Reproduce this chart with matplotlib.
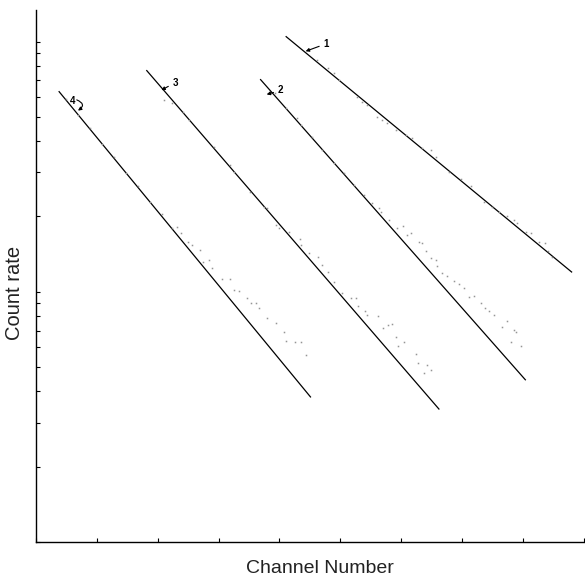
import matplotlib
matplotlib.use("Agg")
import matplotlib.pyplot as plt
from matplotlib.ticker import LogLocator, NullFormatter, MultipleLocator

# Fitted straight lines (channel, count rate) - end points
fit_ch = {
    "1": [411, 880],
    "2": [369, 804],
    "3": [182, 662],
    "4": [38, 451],
}
fit_rate = {
    "1": [104.7, 12.0],
    "2": [70.5, 4.45],
    "3": [76.6, 3.40],
    "4": [63.1, 3.80],
}

# Measured points (dotted)
ch_1 = [461, 479, 490, 498, 528, 536, 544, 561, 569, 577, 592, 608, 618, 634, 649, 657,
        679, 698, 715, 736, 749, 760, 774, 785, 790, 805, 813, 826, 836, 842, 847]
rate_1 = [84.7, 78.7, 75.2, 70.5, 60.3, 57.5, 56.0, 50.1, 48.8, 47.4, 44.5, 42.5, 41.3, 37.7,
          37.0, 34.7, 30.2, 28.3, 26.5, 22.9, 21.9, 20.9, 20.0, 19.4, 18.9, 17.4, 17.2, 15.8,
          15.7, 14.5, 13.8]

ch_2 = [392, 411, 429, 436, 454, 470, 490, 506, 523, 539, 552, 564, 567, 580, 593, 603, 610,
        616, 629, 634, 641, 649, 657, 659, 667, 675, 687, 695, 703, 711, 720, 731, 738, 744,
        752, 765, 774, 785, 788, 780, 797]
rate_2 = [62.5, 54.5, 49.7, 46.6, 41.7, 37.0, 32.8, 29.9, 26.8, 24.4, 22.7, 21.7, 20.9, 19.4,
          18.0, 18.4, 16.9, 17.2, 15.8, 15.7, 14.5, 13.7, 13.4, 12.7, 11.9, 11.6, 11.0, 10.7,
          10.4, 9.55, 9.64, 9.04, 8.63, 8.39, 8.09, 7.24, 7.66, 7.05, 6.92, 6.31, 6.08]

ch_3 = [211, 223, 241, 252, 293, 318, 326, 351, 375, 379, 395, 400, 415, 434, 436, 449, 464,
        470, 479, 490, 503, 518, 526, 529, 541, 544, 562, 570, 579, 585, 592, 595, 605, 624,
        628, 638, 642, 649]
rate_3 = [58.6, 57.0, 52.5, 48.8, 38.0, 32.2, 30.2, 25.1, 21.9, 21.7, 18.5, 18.0, 17.4, 16.3,
          15.4, 14.3, 13.8, 12.8, 12.0, 10.9, 9.91, 9.46, 9.46, 8.79, 8.39, 8.09, 8.02, 7.18,
          7.38, 7.45, 6.61, 6.08, 6.31, 5.65, 5.20, 4.74, 5.11, 4.88]

ch_4 = [49, 69, 89, 108, 128, 148, 167, 187, 207, 223, 231, 239, 249, 257, 269, 275, 285,
        290, 305, 318, 326, 334, 346, 354, 361, 367, 380, 395, 408, 411, 425, 436, 444]
rate_4 = [59.2, 51.1, 45.3, 39.1, 34.7, 29.9, 26.5, 22.9, 20.5, 18.0, 18.2, 17.2, 15.8, 15.4,
          14.7, 13.2, 13.4, 12.5, 11.3, 11.2, 10.2, 10.1, 9.46, 9.04, 9.04, 8.63, 7.87, 7.52,
          6.92, 6.37, 6.31, 6.31, 5.60]

points = {"1": (ch_1, rate_1), "2": (ch_2, rate_2), "3": (ch_3, rate_3), "4": (ch_4, rate_4)}

# curve labels: (text pos, arrow tip) in data units
label_xy = {"1": (472, 98.0), "2": (397, 63.8), "3": (224, 68.5), "4": (61, 58.0)}
tip_xy = {"1": (443, 91.5), "2": (379, 61.5), "3": (206, 64.0), "4": (69, 53.0)}
tail_4 = (67, 58.5)

plt.rcParams['font.family'] = ['Liberation Sans', 'DejaVu Sans']
fig = plt.figure(figsize=(5.85, 5.78), dpi=100)
ax = fig.add_axes([0.0615, 0.0623, 0.9385, 0.9207])

for k in ["1", "2", "3", "4"]:
    ax.plot(fit_ch[k], fit_rate[k], color="black", lw=0.9)
    x, y = points[k]
    ax.plot(x, y, ls="none", marker="s", ms=1.1, mec="none", mfc="#959595")
    if k == "4":
        ax.text(label_xy[k][0], label_xy[k][1], k, fontsize=7, fontweight="bold",
                ha="center", va="center")
        ax.annotate("", xy=tip_xy[k], xytext=tail_4,
                    arrowprops=dict(arrowstyle="-|>", lw=0.8, color="black",
                                    connectionstyle="arc3,rad=-0.9",
                                    mutation_scale=5, shrinkA=0, shrinkB=0))
    else:
        ax.annotate(k, xy=tip_xy[k], xytext=label_xy[k], fontsize=7, fontweight="bold",
                    ha="left", va="center",
                    arrowprops=dict(arrowstyle="-|>", lw=0.8, color="black",
                                    mutation_scale=5, shrinkA=1, shrinkB=0))

ax.set_yscale("log")
ax.set_ylim(1, 134)
ax.set_xlim(0, 902)
ax.yaxis.set_major_locator(LogLocator(base=10, subs=(1.0,)))
ax.yaxis.set_minor_locator(LogLocator(base=10, subs=range(2, 10)))
ax.yaxis.set_major_formatter(NullFormatter())
ax.yaxis.set_minor_formatter(NullFormatter())
ax.xaxis.set_major_locator(MultipleLocator(100))
ax.xaxis.set_major_formatter(NullFormatter())

ax.tick_params(which="both", direction="in", length=3, width=0.8, color="black")
for s in ["top", "right"]:
    ax.spines[s].set_visible(False)
for s in ["left", "bottom"]:
    ax.spines[s].set_linewidth(1.0)

ax.set_xlabel("Channel Number", fontsize=14, color="#222222")
ax.set_ylabel("Count rate", fontsize=14.5, color="#222222")
ax.xaxis.set_label_coords(0.517, -0.058)
ax.xaxis.label.set_va("baseline")
ax.yaxis.set_label_coords(-0.022, 0.468)

fig.savefig("out.png", dpi=100)
